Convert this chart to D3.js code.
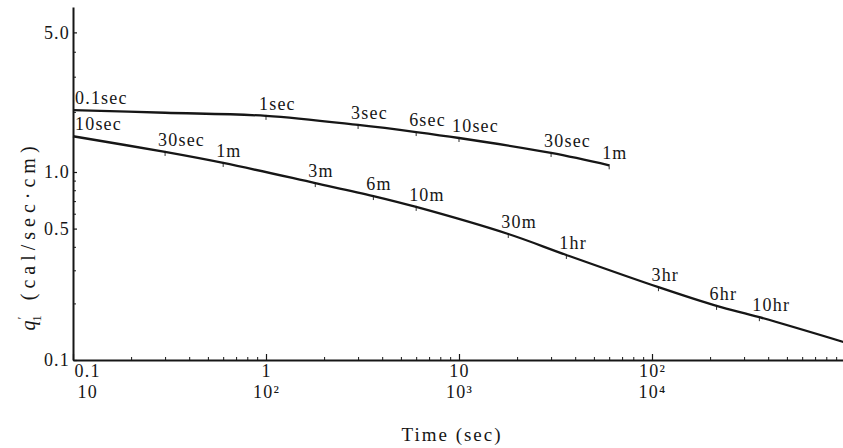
<!DOCTYPE html>
<html>
<head>
<meta charset="utf-8">
<script src="https://cdn.jsdelivr.net/npm/d3@7"></script>
<style>
  html, body { margin: 0; padding: 0; background: #fff; }
  svg { display: block; font-family: "Liberation Serif", "DejaVu Serif", serif; }
</style>
</head>
<body>
<svg id="chart" width="843" height="448"></svg>
<script>
// Short-duration curve (read on the upper time scale, seconds)
const upperTimes  = [0.1, 0.3, 1, 3, 6, 10, 30, 60];
const upperValues = [2.04, 1.98, 1.91, 1.72, 1.585, 1.48, 1.245, 1.08];
const upperLabels = ["0.1sec", "", "1sec", "3sec", "6sec", "10sec", "30sec", "1m"];

// Long-duration curve (read on the lower time scale, seconds)
const lowerTimes  = [10, 30, 60, 180, 360, 600, 1800, 3600, 10800, 21600, 36000, 100000];
const lowerValues = [1.51, 1.26, 1.11, 0.873, 0.745, 0.652, 0.468, 0.362, 0.244, 0.194, 0.169, 0.124];
const lowerLabels = ["10sec", "30sec", "1m", "3m", "6m", "10m", "30m", "1hr", "3hr", "6hr", "10hr", ""];

// Axis tick labels
const yTickValues    = [0.1, 0.5, 1.0, 5.0];
const yTickLabels    = ["0.1", "0.5", "1.0", "5.0"];
const xTopTicks      = [0.1, 1, 10, 100];
const xTopLabels     = ["0.1", "1", "10", "10\u00B2"];
const xBottomTicks   = [10, 100, 1000, 10000];
const xBottomLabels  = ["10", "10\u00B2", "10\u00B3", "10\u2074"];

const svg = d3.select("#chart");
const ink = "#161616";
const font = "Liberation Serif";
const fs = 18;
const ls = 1.2;

// Scales: the two time scales share one log axis, offset by two decades.
const xTop    = d3.scaleLog().domain([0.1, 1000]).range([73, 845]);
const xBottom = d3.scaleLog().domain([10, 100000]).range([73, 845]);
// The printed ordinate is slightly stretched above 1.0, so it is piecewise log.
const y = d3.scaleLog().domain([0.1, 1, 6.7]).range([360, 172, 7]);
const x0 = xTop.range()[0];
const yBase = y.range()[0];

// ---- Y axis ----
const yAxisG = svg.append("g").attr("transform", `translate(${x0},0)`);
yAxisG.call(d3.axisLeft(y).tickValues([]).tickSizeOuter(0));
yAxisG.select(".domain").attr("stroke", ink).attr("stroke-width", 2);

const isDecade = v => Math.abs(Math.log10(v) - Math.round(Math.log10(v))) < 1e-9;
const yMinor = y.ticks().filter(v => v <= 5 && yTickValues.indexOf(v) < 0 && !isDecade(v));
const yMinorG = svg.append("g").attr("transform", `translate(${x0},0)`)
  .call(d3.axisRight(y).tickValues(yMinor).tickSize(3).tickFormat(""));
yMinorG.select(".domain").remove();
yMinorG.selectAll("line").attr("stroke", ink).attr("stroke-width", 1);

const yMajorG = svg.append("g").attr("transform", `translate(${x0},0)`)
  .call(d3.axisRight(y).tickValues(yTickValues).tickSize(4).tickFormat(""));
yMajorG.select(".domain").remove();
yMajorG.selectAll("line").attr("stroke", ink).attr("stroke-width", 1.2);

const yLabelG = svg.append("g").attr("transform", `translate(${x0},0)`)
  .call(d3.axisLeft(y).tickValues(yTickValues).tickSize(0).tickPadding(3)
    .tickFormat((d, i) => yTickLabels[i]));
yLabelG.select(".domain").remove();
yLabelG.selectAll("text")
  .attr("font-family", font).attr("font-size", fs).attr("letter-spacing", ls)
  .attr("fill", ink).attr("dy", "0.32em");

// ---- X axis ----
const xAxisG = svg.append("g").attr("transform", `translate(0,${yBase})`);
xAxisG.call(d3.axisBottom(xTop).tickValues([]).tickSizeOuter(0));
xAxisG.select(".domain").attr("stroke", ink).attr("stroke-width", 2);

const xMinor = xTop.ticks().filter(v => !isDecade(v));
const xMinorG = svg.append("g").attr("transform", `translate(0,${yBase})`)
  .call(d3.axisBottom(xTop).tickValues(xMinor).tickSize(-3).tickFormat(""));
xMinorG.select(".domain").remove();
xMinorG.selectAll("line").attr("stroke", ink).attr("stroke-width", 1);

const xMajorG = svg.append("g").attr("transform", `translate(0,${yBase})`)
  .call(d3.axisBottom(xTop).tickValues(xTopTicks).tickSize(-6).tickFormat(""));
xMajorG.select(".domain").remove();
xMajorG.selectAll("line").attr("stroke", ink).attr("stroke-width", 1.2);

// First row of labels: upper time scale
const xRow1 = svg.append("g").attr("transform", `translate(0,${yBase})`)
  .call(d3.axisBottom(xTop).tickValues(xTopTicks).tickSize(0)
    .tickFormat((d, i) => xTopLabels[i]));
xRow1.select(".domain").remove();
xRow1.selectAll("text")
  .attr("font-family", font).attr("font-size", fs).attr("letter-spacing", ls)
  .attr("fill", ink).attr("y", 17).attr("dy", null);
xRow1.selectAll("text").filter((d, i) => i === 0).attr("text-anchor", "start").attr("x", 1);

// Second row of labels: lower time scale
const xRow2 = svg.append("g").attr("transform", `translate(0,${yBase})`)
  .call(d3.axisBottom(xBottom).tickValues(xBottomTicks).tickSize(0)
    .tickFormat((d, i) => xBottomLabels[i]));
xRow2.select(".domain").remove();
xRow2.selectAll("text")
  .attr("font-family", font).attr("font-size", fs).attr("letter-spacing", ls)
  .attr("fill", ink).attr("y", 38).attr("dy", null);
xRow2.selectAll("text").filter((d, i) => i === 0).attr("text-anchor", "start").attr("x", 4);

// Axis titles
svg.append("text")
  .attr("x", 452).attr("y", 441)
  .attr("text-anchor", "middle")
  .attr("font-size", 19).attr("letter-spacing", 2).attr("fill", ink)
  .text("Time (sec)");

const yTitle = svg.append("text")
  .attr("transform", "translate(35,236) rotate(-90)")
  .attr("text-anchor", "middle")
  .attr("font-size", 20).attr("letter-spacing", 5).attr("fill", ink);
yTitle.append("tspan").attr("font-style", "italic").text("q");
yTitle.append("tspan").attr("font-size", 13).attr("dy", -9).attr("dx", -4).text("\u2032");
yTitle.append("tspan").attr("font-size", 13).attr("dy", 15).attr("dx", -10).text("1");
yTitle.append("tspan").attr("dy", -6).text(" (cal/sec\u00B7cm)");

// ---- Curves ----
const line = d3.line().curve(d3.curveCatmullRom.alpha(0.5));

function drawCurve(times, values, labels, xs) {
  const pts = times.map((t, i) => [xs(t), y(values[i])]);
  svg.append("path")
    .attr("d", line(pts))
    .attr("fill", "none").attr("stroke", ink)
    .attr("stroke-width", 2.3).attr("stroke-linejoin", "round");

  const marks = times.map((t, i) => ({ t, v: values[i], label: labels[i], i }))
    .filter(d => d.label !== "");

  // small marker ticks on the curve at the labelled instants
  svg.append("g").selectAll("line")
    .data(marks.filter(d => d.i > 0))
    .join("line")
    .attr("x1", d => xs(d.t)).attr("x2", d => xs(d.t))
    .attr("y1", d => y(d.v) - 1).attr("y2", d => y(d.v) + 4)
    .attr("stroke", ink).attr("stroke-width", 0.9);

  svg.append("g").selectAll("text")
    .data(marks)
    .join("text")
    .attr("x", d => Math.max(xs(d.t) - 7, x0 + 2))
    .attr("y", d => y(d.v) - 6)
    .attr("font-size", fs).attr("letter-spacing", ls).attr("fill", ink)
    .text(d => d.label);
}

drawCurve(upperTimes, upperValues, upperLabels, xTop);
drawCurve(lowerTimes, lowerValues, lowerLabels, xBottom);
</script>
</body>
</html>
